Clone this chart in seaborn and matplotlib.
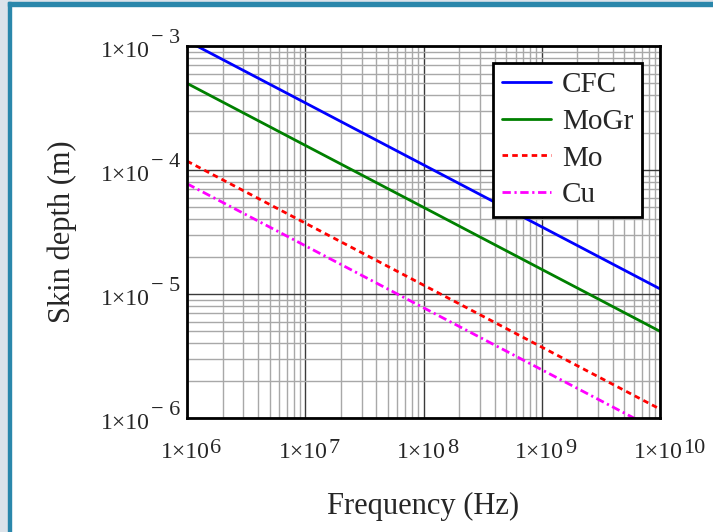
import numpy as np
import pandas as pd
import matplotlib
matplotlib.use('Agg')
import matplotlib.pyplot as plt
from matplotlib.patches import Rectangle
from matplotlib.ticker import FixedLocator, NullFormatter, LogLocator
import seaborn as sns

# skin depth at each decade
freq = [1e6, 1e7, 1e8, 1e9, 1e10]
cfc = [1.1e-3, 3.48e-4, 1.1e-4, 3.48e-5, 1.1e-5]
mogr = [5.0e-4, 1.58e-4, 5.0e-5, 1.58e-5, 5.0e-6]
mo = [1.18e-4, 3.73e-5, 1.18e-5, 3.73e-6, 1.18e-6]
cu = [7.75e-5, 2.45e-5, 7.75e-6, 2.45e-6, 7.75e-7]

names = ['CFC', 'MoGr', 'Mo', 'Cu']
colors = ['#0000ff', '#008000', '#ff0000', '#ff00ff']
xticks = [1e6, 1e7, 1e8, 1e9, 1e10]
xexp = ['6', '7', '8', '9', '10']
yticks = [1e-6, 1e-5, 1e-4, 1e-3]
yexp = ['\u2212 6', '\u2212 5', '\u2212 4', '\u2212 3']

sns.set_style('white')
plt.rcParams['font.family'] = ['Liberation Serif', 'DejaVu Serif']

df = pd.DataFrame({'freq': freq * 4,
                   'depth': cfc + mogr + mo + cu,
                   'mat': [n for n in names for _ in freq]})

fig = plt.figure(figsize=(7.13, 5.32), dpi=100)
fig.patch.set_facecolor('white')
# window frame
fig.patches.append(Rectangle((0, 0), 8 / 713, 1, transform=fig.transFigure, color='#dce3ea', zorder=0))
fig.patches.append(Rectangle((8 / 713, 0), 3 / 713, 1 - 2 / 532, transform=fig.transFigure, color='#2a87ab', zorder=1))
fig.patches.append(Rectangle((0, 1 - 2 / 532), 1, 2 / 532, transform=fig.transFigure, color='#dce3ea', zorder=0))
fig.patches.append(Rectangle((8 / 713, 1 - 6 / 532), 1, 4 / 532, transform=fig.transFigure, color='#2a87ab', zorder=1))

ax = fig.add_axes([187 / 713, 1 - 418 / 532, 473 / 713, 372 / 532])

for n, c in zip(names, colors):
    d = df[df['mat'] == n]
    sns.lineplot(data=d, x='freq', y='depth', ax=ax, color=c, lw=2.0, label=n)
lines = ax.get_lines()
lines[2].set_linestyle((0, (2.0, 1.5)))
lines[3].set_linestyle((0, (3.0, 1.3, 0.8, 1.3)))

ax.set_xscale('log')
ax.set_yscale('log')
ax.set_xlim(1e6, 1e10)
ax.set_ylim(1e-6, 1e-3)

ax.xaxis.set_major_locator(FixedLocator(xticks))
ax.yaxis.set_major_locator(FixedLocator(yticks))
ax.xaxis.set_minor_locator(LogLocator(base=10, subs=np.arange(2, 10)))
ax.yaxis.set_minor_locator(LogLocator(base=10, subs=np.arange(2, 10)))
ax.xaxis.set_minor_formatter(NullFormatter())
ax.yaxis.set_minor_formatter(NullFormatter())
ax.tick_params(which='both', length=0, labelbottom=False, labelleft=False)

# tick labels with full-size raised exponents, as in the original
fs = 17
for t, e in zip(xticks, xexp):
    b = ax.annotate('1\u00d710', xy=(t, 0), xycoords=('data', 'axes fraction'),
                    xytext=(-2, -40), textcoords='offset pixels',
                    ha='center', va='baseline', fontsize=fs, annotation_clip=False)
    ax.annotate(e, xy=(1, 0), xycoords=b, xytext=(1, 10), textcoords='offset pixels',
                ha='left', va='baseline', fontsize=fs - 1, annotation_clip=False)
for t, e in zip(yticks, yexp):
    ex = ax.annotate(e, xy=(0, t), xycoords=('axes fraction', 'data'),
                     xytext=(-7, 3), textcoords='offset pixels',
                     ha='right', va='baseline', fontsize=fs - 1, annotation_clip=False)
    ax.annotate('1\u00d710', xy=(0, 0), xycoords=ex, xytext=(-1, -9), textcoords='offset pixels',
                ha='right', va='baseline', fontsize=fs, annotation_clip=False)

ax.grid(True, which='major', color='#3a3a3a', lw=1.0)
ax.grid(True, which='minor', color='#a8a8a8', lw=1.0)
ax.set_axisbelow(True)
for s in ax.spines.values():
    s.set_color('black')
    s.set_linewidth(2)

ax.set_xlabel('Frequency (Hz)', fontsize=22, labelpad=53)
ax.set_ylabel('Skin depth (m)', fontsize=22, labelpad=79)

leg = ax.legend(loc='upper right', bbox_to_anchor=(0.962, 0.954), fontsize=21,
                frameon=True, fancybox=False, handlelength=1.68, handletextpad=0.38,
                labelspacing=0.35, borderpad=0.3, borderaxespad=0)
leg.get_frame().set_edgecolor('black')
leg.get_frame().set_linewidth(2)
leg.get_frame().set_alpha(1)

fig.savefig('out.png', dpi=100)
